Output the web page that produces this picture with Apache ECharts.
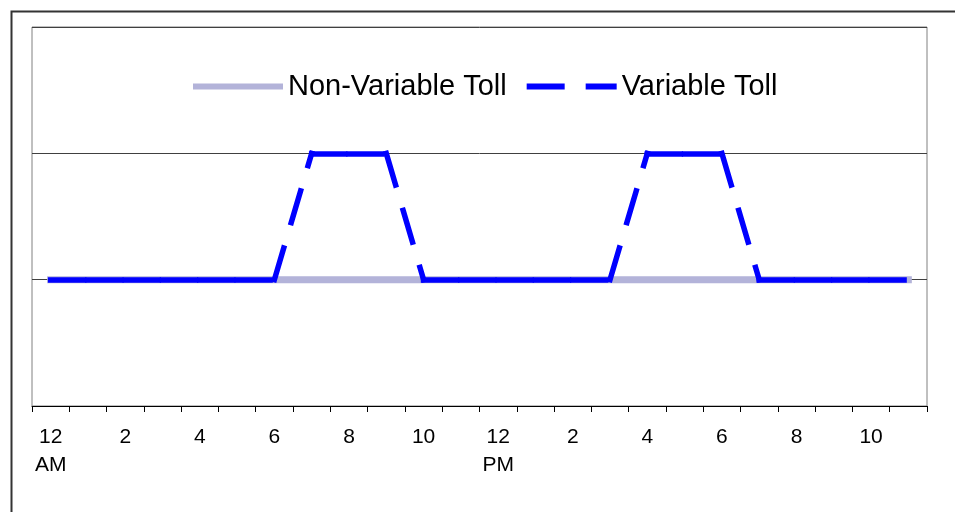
<!DOCTYPE html>
<html>
<head>
<meta charset="utf-8">
<script src="https://cdn.jsdelivr.net/npm/echarts@6/dist/echarts.min.js"></script>
<style>
  html, body { margin: 0; padding: 0; background: #fff; }
  #main { width: 955px; height: 512px; }
</style>
</head>
<body>
<div id="main"></div>
<script>
// hour of day, 0 = 12 AM
const hours = [0, 1, 2, 3, 4, 5, 6, 7, 8, 9, 10, 11, 12, 13, 14, 15, 16, 17, 18, 19, 20, 21, 22, 23];
const tickLabels = ["12\nAM", "2", "4", "6", "8", "10", "12\nPM", "2", "4", "6", "8", "10"];
const nonVariableToll = [1, 1, 1, 1, 1, 1, 1, 1, 1, 1, 1, 1, 1, 1, 1, 1, 1, 1, 1, 1, 1, 1, 1, 1];
const variableToll = [1, 1, 1, 1, 1, 1, 1, 2, 2, 2, 1, 1, 1, 1, 1, 1, 2, 2, 2, 1, 1, 1, 1, 1];

const FONT = "Liberation Sans, Arial, sans-serif";

// the variable toll is drawn segment by segment, so the dash starts again at each hour
const variableSegments = [];
for (let i = 0; i < variableToll.length - 1; i++) {
  variableSegments.push({ coords: [[i, variableToll[i]], [i + 1, variableToll[i + 1]]] });
}

const chart = echarts.init(document.getElementById("main"));

const option = {
  backgroundColor: "#fff",
  animation: false,
  textStyle: { fontFamily: FONT },
  graphic: [
    {
      type: "rect",
      left: 9,
      top: 9,
      shape: { width: 1000, height: 600 },
      style: { fill: "none", stroke: "#333", lineWidth: 2 },
      silent: true
    }
  ],
  legend: {
    left: 188,
    top: 64,
    itemWidth: 90,
    itemHeight: 6,
    itemGap: 20,
    textStyle: {
      fontSize: 29,
      color: "#000",
      fontFamily: FONT,
      lineHeight: 30,
      padding: [5, 0, 0, 0]
    },
    data: [
      {
        name: "Non-Variable Toll",
        icon: "rect",
        itemStyle: { color: "#b3b3d9", borderWidth: 0 }
      },
      {
        name: "Variable Toll",
        icon: "path://M0,0H38V6H0Z M59,0H90V6H59Z",
        itemStyle: { color: "#0000ff", borderWidth: 0 }
      }
    ]
  },
  grid: {
    left: 32,
    right: 28,
    top: 27,
    bottom: 106,
    show: true,
    borderColor: "#808080",
    borderWidth: 1
  },
  xAxis: {
    type: "category",
    data: hours,
    boundaryGap: true,
    axisLine: { lineStyle: { color: "#000", width: 1 } },
    axisTick: { show: true, interval: 0, length: 6, lineStyle: { color: "#000" } },
    axisLabel: {
      interval: 0,
      margin: 17,
      fontSize: 21,
      lineHeight: 28,
      color: "#000",
      fontFamily: FONT,
      formatter: function(value, index) {
        return index % 2 === 0 ? tickLabels[index / 2] : "";
      }
    },
    splitLine: { show: false }
  },
  yAxis: {
    type: "value",
    min: 0,
    max: 3,
    interval: 1,
    axisLine: { show: false },
    axisTick: { show: false },
    axisLabel: { show: false },
    splitLine: { show: true, lineStyle: { color: "#404040", width: 1 } }
  },
  series: [
    {
      name: "Non-Variable Toll",
      type: "line",
      data: nonVariableToll,
      symbol: "none",
      z: 2,
      lineStyle: { color: "#b3b3d9", width: 7, cap: "square" },
      itemStyle: { color: "#b3b3d9" }
    },
    {
      name: "Variable Toll",
      type: "lines",
      coordinateSystem: "cartesian2d",
      data: variableSegments,
      z: 3,
      lineStyle: { color: "#0000ff", width: 5.5, type: [33, 26.5], cap: "square", opacity: 1 }
    }
  ]
};

chart.setOption(option);
</script>
</body>
</html>
